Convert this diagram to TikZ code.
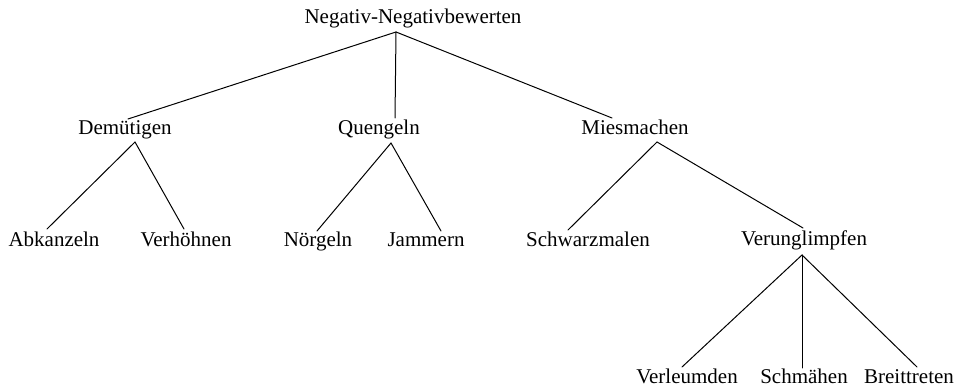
\documentclass[tikz,border=0pt]{standalone}
\usepackage{fontspec}
\setmainfont{Liberation Serif}
\begin{document}
\begin{tikzpicture}[x=1pt,y=1pt,
  lbl/.style={anchor=base, inner sep=0pt, font=\fontsize{21}{25}\selectfont},
  edge/.style={line width=1pt, line cap=round}]
\useasboundingbox (0,0) rectangle (960,390);
% nodes (baseline positions)
\node[lbl] (root) at (413,366) {Negativ-Negativbewerten};
\node[lbl] (dem) at (125,255) {Demütigen};
\node[lbl] (que) at (379,255) {Quengeln};
\node[lbl] (mie) at (635,255) {Miesmachen};
\node[lbl] (abk) at (54,143) {Abkanzeln};
\node[lbl] (ver) at (186,143) {Verhöhnen};
\node[lbl] (noe) at (318,143) {Nörgeln};
\node[lbl] (jam) at (426,143) {Jammern};
\node[lbl] (sch) at (588,143) {Schwarzmalen};
\node[lbl] (vun) at (804,144) {Verunglimpfen};
\node[lbl] (vle) at (687,6) {Verleumden};
\node[lbl] (smh) at (804,6) {Schmähen};
\node[lbl] (brt) at (909,6) {Breittreten};
% connectors
\draw[edge] ([shift={(-17,-8)}]root.base) -- ([shift={(3,16)}]dem.base);
\draw[edge] ([shift={(-17,-8)}]root.base) -- ([shift={(16,17)}]que.base);
\draw[edge] ([shift={(-17,-8)}]root.base) -- ([shift={(-23,17)}]mie.base);
\draw[edge] ([shift={(10,-7)}]dem.base) -- ([shift={(-7,18)}]abk.base);
\draw[edge] ([shift={(10,-7)}]dem.base) -- ([shift={(-2,18)}]ver.base);
\draw[edge] ([shift={(12,-8)}]que.base) -- ([shift={(-1,16)}]noe.base);
\draw[edge] ([shift={(12,-8)}]que.base) -- ([shift={(15,16)}]jam.base);
\draw[edge] ([shift={(22,-7)}]mie.base) -- ([shift={(-20,17)}]sch.base);
\draw[edge] ([shift={(22,-7)}]mie.base) -- ([shift={(-1,18)}]vun.base);
\draw[edge] ([shift={(-2,-9)}]vun.base) -- ([shift={(-5,17)}]vle.base);
\draw[edge] ([shift={(-2,-9)}]vun.base) -- ([shift={(-2,16)}]smh.base);
\draw[edge] ([shift={(-2,-9)}]vun.base) -- ([shift={(8,17)}]brt.base);
\end{tikzpicture}
\end{document}
